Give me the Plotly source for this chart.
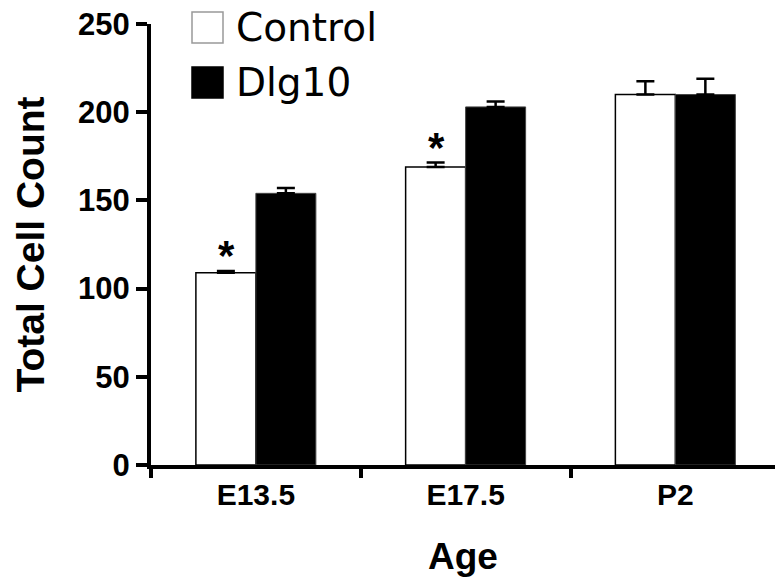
import plotly.graph_objects as go

ages = ["E13.5", "E17.5", "P2"]
series_names = ["Control", "Dlg10"]
control_vals = [109, 169, 210]
control_err = [1, 2.5, 7.5]
dlg10_vals = [154, 203, 210]
dlg10_err = [3, 3, 9]
star_age = ["E13.5", "E17.5"]
star_vals = [118.5, 180]
y_ticks = [0, 50, 100, 150, 200, 250]

W, H = 775, 587
ML, MR, MT, MB = 151, 0, 24, 122
PW, PH = W - ML - MR, H - MT - MB

def px_x(p):
    return (p - ML) / PW

def px_y(p):
    return (H - MB - p) / PH

fig = go.Figure()
fig.add_trace(go.Bar(
    x=ages, y=control_vals, name=series_names[0],
    marker=dict(color="white", line=dict(color="black", width=1.5)),
    error_y=dict(type="data", array=control_err, arrayminus=[0]*3, symmetric=False,
                 color="black", thickness=2.5, width=9),
    showlegend=False,
))
fig.add_trace(go.Bar(
    x=ages, y=dlg10_vals, name=series_names[1],
    marker=dict(color="black", line=dict(color="#444", width=1)),
    error_y=dict(type="data", array=dlg10_err, arrayminus=[0]*3, symmetric=False,
                 color="black", thickness=2.5, width=9),
    showlegend=False,
))

for a, v in zip(star_age, star_vals):
    fig.add_annotation(x=a, y=v, xref="x", yref="y", text="<b>*</b>", showarrow=False,
                       xshift=-29, yanchor="middle",
                       font=dict(family="Liberation Sans, Arial", size=42, color="black"))

# manual legend
legend_rows = [(12, 43, "white", series_names[0]), (67, 98, "black", series_names[1])]
for top, bot, col, name in legend_rows:
    fig.add_shape(type="rect", xref="paper", yref="paper",
                  x0=px_x(192), x1=px_x(223), y0=px_y(bot), y1=px_y(top),
                  fillcolor=col, line=dict(color="#999" if col == "white" else "black", width=1.5))
    fig.add_annotation(xref="paper", yref="paper", x=px_x(234), y=px_y((top + bot) / 2),
                       text=name, showarrow=False, xanchor="left", yanchor="middle",
                       font=dict(family="DejaVu Sans", size=39, color="black"))

fig.update_layout(
    width=W, height=H,
    margin=dict(l=ML, r=MR, t=MT, b=MB),
    paper_bgcolor="white", plot_bgcolor="white",
    barmode="group", bargap=0.428, bargroupgap=0,
    font=dict(family="Liberation Sans, Arial", color="black"),
)
fig.update_xaxes(
    type="category", range=[-0.5, 2.475], tickson="boundaries",
    showline=True, linecolor="black", linewidth=4,
    ticks="outside", ticklen=9, tickwidth=4, tickcolor="black",
    tickfont=dict(size=30, weight="bold"), showgrid=False, zeroline=False,
    title=dict(text="<b>Age</b>", font=dict(size=37), standoff=34),
    automargin=False,
)
fig.update_yaxes(
    range=[0, 250], tickvals=y_ticks, ticktext=[str(t) for t in y_ticks],
    showline=True, linecolor="black", linewidth=4,
    ticks="outside", ticklen=11, tickwidth=4, tickcolor="black",
    tickfont=dict(size=31, weight="bold"), showgrid=False, zeroline=False,
    title=dict(text="<b>Total Cell Count</b>", font=dict(size=39), standoff=22),
    automargin=False,
)

fig.write_html("out.html", config={"displayModeBar": False},
               post_script="document.body.style.margin='0';")
